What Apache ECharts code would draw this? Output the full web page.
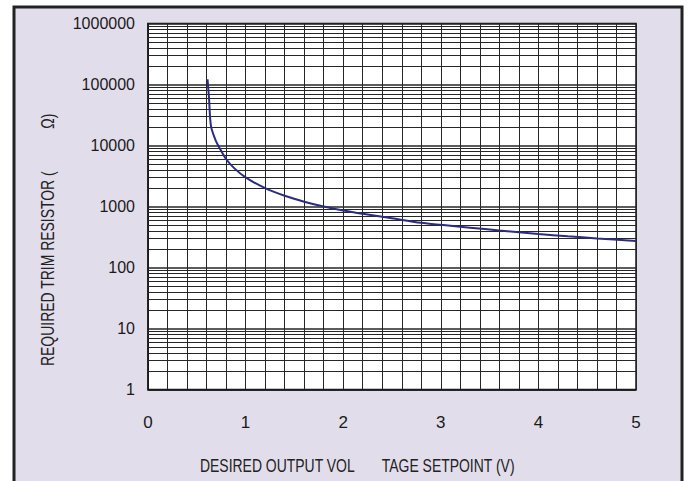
<!DOCTYPE html>
<html>
<head>
<meta charset="utf-8">
<script src="https://cdn.jsdelivr.net/npm/echarts@6/dist/echarts.min.js"></script>
<style>
html,body{margin:0;padding:0;background:#ffffff;}
#chart{width:692px;height:481px;}
</style>
</head>
<body>
<div id="chart"></div>
<script>
// Curve: desired output voltage (V) vs required trim resistor (ohm)
var voltage = [0.61, 0.625, 0.645, 0.69, 0.73, 0.8, 0.88, 1.0, 1.2, 1.4, 1.6, 1.8, 2.0, 2.2, 2.5, 2.8, 3.0, 3.3, 3.6, 4.0, 4.3, 4.6, 5.0];
var resistance = [122000, 60000, 21000, 12500, 9300, 6000, 4300, 3000, 2000, 1500, 1200, 1000, 860, 760, 640, 540, 500, 450, 405, 355, 325, 300, 272];
var xTickLabels = ['0', '1', '2', '3', '4', '5'];
var yTickLabels = ['1', '10', '100', '1000', '10000', '100000', '1000000'];
var yDecades = [1, 10, 100, 1000, 10000, 100000];
var yMinorSteps = [2, 3, 4, 5, 6, 7, 8, 9];
var xTitle = 'DESIRED OUTPUT VOL\u00a0\u00a0\u00a0\u00a0\u00a0\u00a0\u00a0TAGE SETPOINT (V)';
var yTitle = 'REQUIRED TRIM RESISTOR (\u00a0\u00a0\u00a0\u00a0\u00a0\u00a0\u00a0\u00a0\u00a0\u00a0\u00a0\u03a9)';

var FONT = '"Liberation Sans", Arial, sans-serif';
var GRIDC = '#262626';

var minorLines = [];
yDecades.forEach(function (d) {
  yMinorSteps.forEach(function (s) { minorLines.push({ yAxis: d * s }); });
});

var curve = voltage.map(function (v, i) { return [v, resistance[i]]; });

var chart = echarts.init(document.getElementById('chart'), null, { renderer: 'svg' });
chart.setOption({
  animation: false,
  backgroundColor: '#ffffff',
  graphic: [
    { type: 'rect', z: -10, shape: { x: 14, y: 7, width: 668, height: 490 },
      style: { fill: '#e2ddeb', stroke: '#222222', lineWidth: 3 } },
    { type: 'text', x: 200, y: 465, z: 10, scaleX: 0.775,
      style: { text: xTitle, font: '18px ' + FONT, fill: '#222222', textAlign: 'left', textVerticalAlign: 'middle' } },
    { type: 'text', x: 47, y: 366, rotation: Math.PI / 2, scaleX: 0.775, z: 10,
      style: { text: yTitle, font: '18px ' + FONT, fill: '#222222', textAlign: 'left', textVerticalAlign: 'middle' } }
  ],
  grid: { left: 148, top: 23.5, width: 488, height: 366, show: true, backgroundColor: '#ffffff', borderColor: '#1a1a1a', borderWidth: 1.5 },
  xAxis: {
    type: 'value', min: 0, max: 5, interval: 1,
    axisLine: { show: true, lineStyle: { color: '#1a1a1a', width: 1.5 } },
    axisTick: { show: false },
    axisLabel: { margin: 24, color: '#1a1a1a', fontSize: 17, fontFamily: FONT,
      formatter: function (v) { return xTickLabels[Math.round(v)]; } },
    splitLine: { show: true, lineStyle: { color: GRIDC, width: 1 } },
    minorTick: { show: false, splitNumber: 5 },
    minorSplitLine: { show: true, lineStyle: { color: GRIDC, width: 1 } }
  },
  yAxis: {
    type: 'log', logBase: 10, min: 1, max: 1000000,
    axisLine: { show: true, lineStyle: { color: '#1a1a1a', width: 1.5 } },
    axisTick: { show: false },
    axisLabel: { margin: 13, color: '#1a1a1a', fontSize: 16, fontFamily: FONT,
      formatter: function (v) { return yTickLabels[Math.round(Math.log10(v))]; } },
    splitLine: { show: true, lineStyle: { color: GRIDC, width: 1.5 } }
  },
  series: [
    { type: 'line', data: [], silent: true,
      markLine: { silent: true, symbol: ['none', 'none'], label: { show: false },
        lineStyle: { color: GRIDC, width: 1, type: 'solid' }, emphasis: { disabled: true },
        data: minorLines } },
    { type: 'line', data: curve, smooth: 0.3, showSymbol: false, symbol: 'none', z: 5,
      lineStyle: { color: '#2b2c80', width: 2 } }
  ]
});
</script>
</body>
</html>
